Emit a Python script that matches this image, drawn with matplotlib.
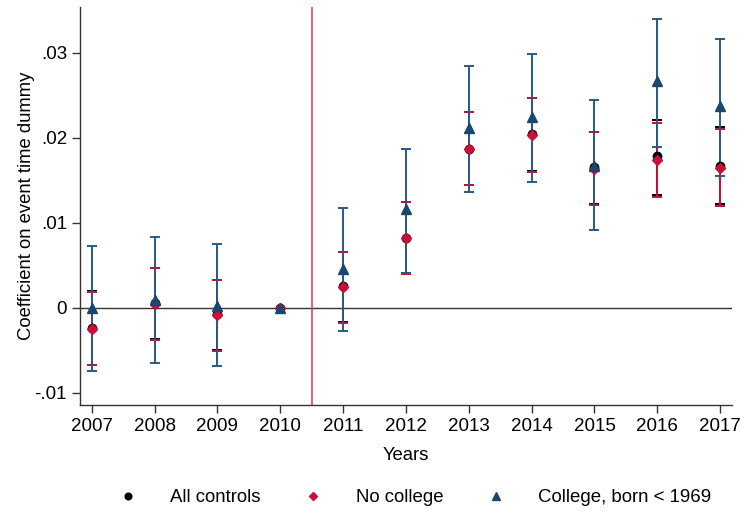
import matplotlib.pyplot as plt
import numpy as np

plt.rcParams["font.family"] = ["Liberation Sans", "DejaVu Sans"]

# ── Event-study coefficients and 95% CIs ─────────────────────────────────────
years = [2007, 2008, 2009, 2010, 2011, 2012, 2013, 2014, 2015, 2016, 2017]

all_coef = [-0.0024, 0.0005, -0.0008, 0.0, 0.0025, 0.0082, 0.0187, 0.0204, 0.0165, 0.0178, 0.0167]
all_lo   = [-0.0068, -0.0037, -0.0050, 0.0, -0.0017, 0.0041, 0.0144, 0.0161, 0.0122, 0.0133, 0.0122]
all_hi   = [0.0019, 0.0047, 0.0033, 0.0, 0.0066, 0.0124, 0.0230, 0.0247, 0.0207, 0.0221, 0.0212]

nc_coef = [-0.0025, 0.0004, -0.0009, 0.0, 0.0024, 0.0082, 0.0187, 0.0203, 0.0163, 0.0174, 0.0164]
nc_lo   = [-0.0067, -0.0038, -0.0051, 0.0, -0.0018, 0.0040, 0.0144, 0.0160, 0.0121, 0.0130, 0.0119]
nc_hi   = [0.0018, 0.0047, 0.0033, 0.0, 0.0065, 0.0124, 0.0230, 0.0246, 0.0206, 0.0217, 0.0210]

col_coef = [0.0000, 0.0009, 0.0002, 0.0, 0.0046, 0.0116, 0.0211, 0.0224, 0.0167, 0.0266, 0.0237]
col_lo   = [-0.0074, -0.0065, -0.0069, 0.0, -0.0027, 0.0041, 0.0136, 0.0148, 0.0091, 0.0189, 0.0155]
col_hi   = [0.0073, 0.0083, 0.0075, 0.0, 0.0117, 0.0187, 0.0284, 0.0298, 0.0244, 0.0339, 0.0316]

series = [
    ("All controls",         all_coef, all_lo, all_hi, "black",   "black",   "o", 6.0),
    ("No college",           nc_coef,  nc_lo,  nc_hi,  "#C8103A", "#C8103A", "D", 5.5),
    ("College, born < 1969", col_coef, col_lo, col_hi, "#1A476F", "#285A86", "^", 6.5),
]

fig = plt.figure(figsize=(7.41, 5.12), dpi=100)
ax = fig.add_axes([0.108, 0.209, 0.880, 0.778])

ax.axhline(0, color="#333333", lw=1.0, zorder=1)
ax.axvline(2010.5, color="#D9306A", lw=1.1, zorder=1)

x = np.array(years)
for i, (label, c, lo, hi, color, bar_color, mk, ms) in enumerate(series):
    c, lo, hi = np.array(c), np.array(lo), np.array(hi)
    err = np.vstack([c - lo, hi - c])
    has_ci = (hi - lo) > 0
    ax.errorbar(x[has_ci], c[has_ci], yerr=err[:, has_ci], fmt="none",
                ecolor=bar_color, elinewidth=1.4, capsize=3.6, capthick=1.4,
                zorder=2 + i)
    ax.plot(x, c, linestyle="none", marker=mk, ms=ms, color=color,
            zorder=5 + i, label=label)

ax.set_xlim(2006.814, 2017.19)
ax.set_ylim(-0.01145, 0.0354)
ax.set_xticks(years)
ax.set_yticks([-0.01, 0, 0.01, 0.02, 0.03])
ax.set_yticklabels(["-.01", "0", ".01", ".02", ".03"])
ax.tick_params(labelsize=13.5, length=5.8, width=1, color="#333333",
               direction="out", pad=3.5)

for side in ("top", "right"):
    ax.spines[side].set_visible(False)
for side in ("left", "bottom"):
    ax.spines[side].set_color("#333333")
    ax.spines[side].set_linewidth(1)

ax.set_xlabel("Years", fontsize=13.3, labelpad=9)
ax.set_ylabel("Coefficient on event time dummy", fontsize=13.3, labelpad=0)

fig.legend(loc="center", bbox_to_anchor=(0.560, 0.028), ncol=3, frameon=False,
           fontsize=13.4, markerscale=0.8, handlelength=1.0, handletextpad=1.76,
           columnspacing=2.35, borderpad=0.2)

fig.savefig("out.png", dpi=100)
